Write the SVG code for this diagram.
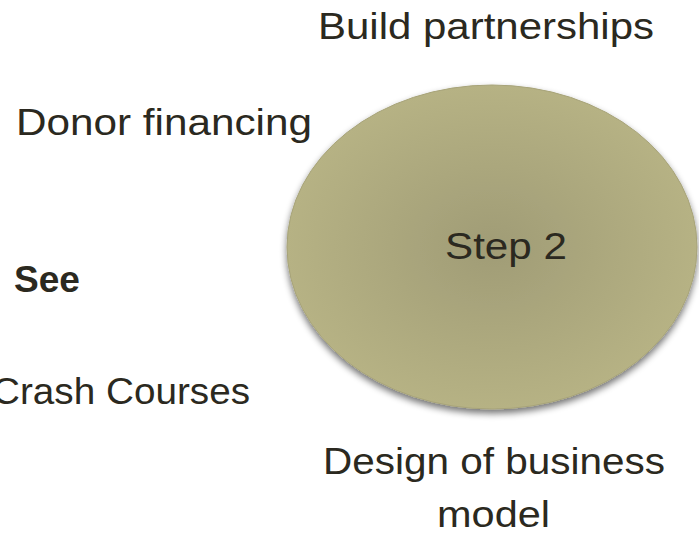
<svg xmlns="http://www.w3.org/2000/svg" width="699" height="536" viewBox="0 0 699 536">
<style>
.t{font-family:"Liberation Sans",Arial,sans-serif;font-size:36px;fill:#2b2920;}
.b{font-weight:bold;}
</style>
<defs>
<radialGradient id="g" cx="0.5" cy="0.5" r="0.5">
<stop offset="0" stop-color="#a09c76"/>
<stop offset="1" stop-color="#b6b284"/>
</radialGradient>
<filter id="sh" x="-10%" y="-10%" width="120%" height="125%">
<feGaussianBlur in="SourceAlpha" stdDeviation="3.5"/>
<feOffset dx="0" dy="4" result="o"/>
<feComponentTransfer><feFuncA type="linear" slope="0.55"/></feComponentTransfer>
<feMerge><feMergeNode/><feMergeNode in="SourceGraphic"/></feMerge>
</filter>
</defs>
<rect width="699" height="536" fill="#ffffff"/>
<g id="connectors"></g>
<g id="step2">
<ellipse cx="492" cy="247" rx="205" ry="162" fill="url(#g)" stroke="#a7a379" stroke-width="1" filter="url(#sh)"/>
<text class="t" x="445" y="259" textLength="122" lengthAdjust="spacingAndGlyphs">Step 2</text>
</g>
<g id="build"><text class="t" x="318" y="39" textLength="336" lengthAdjust="spacingAndGlyphs">Build partnerships</text></g>
<g id="donor"><text class="t" x="16" y="135" textLength="296" lengthAdjust="spacingAndGlyphs">Donor financing</text></g>
<g id="see"><text class="t b" x="14" y="292" textLength="66" lengthAdjust="spacingAndGlyphs">See</text></g>
<g id="crash"><text class="t" x="-8" y="404" textLength="258" lengthAdjust="spacingAndGlyphs">Crash Courses</text></g>
<g id="design">
<text class="t" x="323" y="474" textLength="342" lengthAdjust="spacingAndGlyphs">Design of business</text>
<text class="t" x="437" y="527" textLength="113" lengthAdjust="spacingAndGlyphs">model</text>
</g>
</svg>
